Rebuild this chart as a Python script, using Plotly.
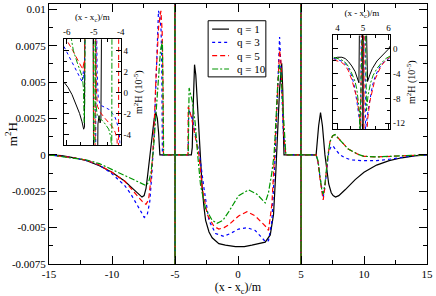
import plotly.graph_objects as go

# ---------------- data ----------------
names = ["q = 1", "q = 3", "q = 5", "q = 10"]
colors = ["#000000", "#0000ff", "#ff0000", "#009600"]
dashes = ["solid", "dot", "5px,3px", "6px,2px,2px,2px"]

# main panel: (x - x_c)/m , m^2 H
q1_main = [(-15, 0), (-14, -0.00005), (-13, -0.0002), (-12, -0.0004), (-11, -0.00075), (-10, -0.0012),
           (-9.5, -0.0015), (-9, -0.0018), (-8.5, -0.0022), (-8, -0.0026), (-7.8, -0.0028), (-7.62, -0.0029),
           (-7.45, -0.0028), (-7.3, -0.0023), (-7.17, -0.0014), (-7.0, -0.0001), (-6.8, 0.0015), (-6.65, 0.0025),
           (-6.52, 0.0029), (-6.4, 0.0025), (-6.3, 0.0015), (-6.22, 0.0003), (-6.2, 0), (-5.1, 0), (-5.01, 0),
           (-5.0, 0.05), (-5.0, -0.05), (-4.99, 0), (-3.7, 0), (-3.63, 0.0005), (-3.55, 0.0035), (-3.45, 0.0062),
           (-3.35, 0.0055), (-3.24, 0.0038), (-3.1, 0.0015), (-2.97, 0), (-2.84, -0.0023), (-2.7, -0.0036),
           (-2.57, -0.0045), (-2.3, -0.0053), (-2.05, -0.0057), (-1.52, -0.0061), (-1.0, -0.0062), (-0.2, -0.0063),
           (0.5, -0.0063), (1.1, -0.0062), (1.6, -0.0061), (2.16, -0.006), (2.56, -0.0055), (2.82, -0.0041),
           (3.0, -0.0012), (3.16, 0.0022), (3.3, 0.0045), (3.47, 0.0063), (3.55, 0.0045), (3.62, 0.001),
           (3.65, 0), (4.99, 0), (5.0, 0.05), (5.0, -0.05), (5.01, 0), (6.2, 0), (6.3, 0.001), (6.4, 0.002),
           (6.55, 0.0029), (6.7, 0.002), (6.9, 0), (7.05, -0.0012), (7.2, -0.002), (7.4, -0.0026), (7.55, -0.0028),
           (7.74, -0.0029), (8.0, -0.0028), (8.5, -0.0024), (9.3, -0.0017), (10, -0.0012), (11, -0.0007),
           (12, -0.0004), (13, -0.0002), (14, -0.00007), (15, 0)]
q3_main = [(-15, 0), (-13, -0.0002), (-12, -0.0004), (-11, -0.0007), (-10, -0.0013), (-9, -0.0021),
           (-8.5, -0.0027), (-8, -0.0034), (-7.7, -0.0039), (-7.44, -0.0043), (-7.2, -0.0041), (-7.0, -0.0032),
           (-6.85, -0.0015), (-6.65, 0.0015), (-6.5, 0.0055), (-6.39, 0.0083), (-6.31, 0.0099), (-6.2, 0.0095),
           (-6.1, 0.0085), (-6.05, 0.006), (-6.0, 0), (-5.1, 0), (-5.01, 0), (-5.0, 0.05), (-5.0, -0.05),
           (-4.99, 0), (-3.95, 0), (-3.92, 0.0031), (-3.85, 0.003), (-3.6, 0.0024), (-3.3, 0.001), (-3.05, 0),
           (-2.7, -0.0023), (-2.31, -0.0045), (-1.78, -0.0054), (-1.13, -0.0056), (-0.6, -0.0054), (0.05, -0.0051),
           (0.71, -0.005), (1.37, -0.0052), (1.8, -0.0056), (2.16, -0.00595), (2.42, -0.0059), (2.69, -0.00455),
           (2.95, 0), (3.1, 0.0035), (3.22, 0.0065), (3.3, 0.0081), (3.35, 0.0072), (3.47, 0.0038), (3.6, 0.0015),
           (3.69, 0.0009), (3.79, 0), (4.99, 0), (5.0, 0.05), (5.0, -0.05), (5.01, 0), (6.2, 0), (6.35, -0.0005),
           (6.5, -0.0015), (6.65, -0.0025), (6.76, -0.0029), (6.9, -0.0022), (7.05, -0.0008), (7.2, 0.0002),
           (7.4, 0.0006), (7.55, 0.0006), (7.8, 0.0003), (8.1, 0), (8.5, -0.0002), (9.0, -0.00035),
           (10, -0.0004), (11, -0.0004), (12, -0.0003), (13, -0.00015), (14, -0.00005), (15, 0)]
q5_main = [(-15, 0), (-13, -0.0002), (-12, -0.00038), (-11, -0.0007), (-10, -0.0012), (-9, -0.0018),
           (-8.5, -0.0023), (-8, -0.0028), (-7.6, -0.0032), (-7.31, -0.0034), (-7.1, -0.0031), (-6.9, -0.0016),
           (-6.7, 0.001), (-6.5, 0.0055), (-6.3, 0.0088), (-6.12, 0.0099), (-6.02, 0.0085), (-5.95, 0.005),
           (-5.92, 0), (-5.1, 0), (-5.01, 0), (-5.0, 0.05), (-5.0, -0.05), (-4.99, 0), (-3.97, 0),
           (-3.95, 0.0033), (-3.9, 0.0032), (-3.7, 0.0026), (-3.4, 0.0013), (-3.1, 0), (-2.84, -0.0023),
           (-2.44, -0.0041), (-1.92, -0.0049), (-1.52, -0.0051), (-1.1, -0.005), (-0.73, -0.0048),
           (0.05, -0.0042), (0.71, -0.0039), (1.37, -0.0042), (1.9, -0.0047), (2.29, -0.005), (2.42, -0.0052),
           (2.69, -0.0034), (2.9, 0), (3.05, 0.003), (3.2, 0.006), (3.3, 0.0072), (3.4, 0.0065), (3.5, 0.004),
           (3.65, 0.0012), (3.79, 0), (4.99, 0), (5.0, 0.05), (5.0, -0.05), (5.01, 0), (6.2, 0), (6.35, -0.0005),
           (6.5, -0.0016), (6.65, -0.0027), (6.76, -0.0031), (6.9, -0.0022), (7.1, -0.0003), (7.3, 0.0009),
           (7.5, 0.0013), (7.7, 0.0014), (8.0, 0.0011), (8.75, 0.0004), (9.5, 0.00005), (10, -0.0001),
           (11, -0.00014), (12, -0.00012), (13, -0.00008), (14, -0.00003), (15, 0)]
q10_main = [(-15, 0), (-13, -0.0002), (-12, -0.00035), (-11, -0.0006), (-10, -0.001), (-9, -0.0014),
            (-8, -0.0018), (-7.6, -0.002), (-7.31, -0.0021), (-7.1, -0.0019), (-6.9, -0.0012), (-6.7, 0.0005),
            (-6.4, 0.0045), (-6.15, 0.0072), (-6.0, 0.0078), (-5.95, 0.004), (-5.9, 0), (-5.1, 0), (-5.01, 0),
            (-5.0, 0.05), (-5.0, -0.05), (-4.99, 0), (-3.95, 0), (-3.92, 0.004), (-3.88, 0.0046),
            (-3.63, 0.0037), (-3.4, 0.0022), (-3.2, 0), (-2.97, -0.0021), (-2.57, -0.0037), (-2.05, -0.0045),
            (-1.66, -0.0047), (-1.2, -0.0045), (-0.73, -0.0039), (0.05, -0.0028), (0.84, -0.0024),
            (1.5, -0.0027), (2.16, -0.0033), (2.42, -0.0026), (2.69, -0.0012), (2.86, 0), (3.0, 0.0022),
            (3.15, 0.0048), (3.3, 0.0062), (3.4, 0.0058), (3.55, 0.0035), (3.7, 0.0008), (3.8, 0), (4.99, 0),
            (5.0, 0.05), (5.0, -0.05), (5.01, 0), (6.2, 0), (6.35, -0.0004), (6.5, -0.0014), (6.65, -0.0024),
            (6.76, -0.0027), (6.9, -0.002), (7.1, -0.0003), (7.3, 0.0009), (7.5, 0.0013), (7.7, 0.0014),
            (8.0, 0.0011), (8.75, 0.0004), (9.5, 0.00005), (10, -0.0001), (11, -0.00014), (12, -0.00012),
            (13, -0.00008), (14, -0.00003), (15, 0)]

# left inset, y in units of 1e-5
q1_left = [(-6.1, 1.0), (-5.95, 0.5), (-5.8, -0.2), (-5.65, -1.1), (-5.52, -2.0), (-5.43, -2.8), (-5.37, -3.5),
           (-5.34, -3.3), (-5.32, 9), (-5.02, 9), (-5.0, -9), (-4.86, -9), (-4.84, -3.0), (-4.8, -2.2),
           (-4.76, -2.9), (-4.73, -2.5), (-4.7, 9), (-4.0, 9)]
q3_left = [(-6.1, 4.4), (-5.9, 3.4), (-5.75, 2.6), (-5.6, 1.8), (-5.5, 1.3), (-5.42, 1.0), (-5.38, 2.0),
           (-5.35, 1.2), (-5.33, 4.0), (-5.31, 9), (-5.01, 9), (-5.0, -9), (-4.93, -9), (-4.9, 9), (-4.87, 2),
           (-4.83, -0.5), (-4.75, -1.2), (-4.6, -1.4), (-4.44, -1.6), (-4.3, -2.0), (-4.2, -2.4), (-4.1, -3.2),
           (-4.05, -4.0), (-4.0, -5.5)]
q5_left = [(-6.05, 5.5), (-5.95, 4.8), (-5.77, 4.0), (-5.6, 3.2), (-5.5, 2.7), (-5.4, 2.2), (-5.36, 3.0),
           (-5.34, 2.0), (-5.32, 9), (-5.01, 9), (-5.0, -9), (-4.95, -9), (-4.93, 9), (-4.9, 0.5), (-4.86, -1.3),
           (-4.75, -1.9), (-4.6, -2.4), (-4.44, -2.9), (-4.3, -3.3), (-4.2, -3.8), (-4.13, -4.5), (-4.11, -9),
           (-4.08, -9), (-4.07, 9), (-4.0, 9)]
q10_left = [(-5.85, 5.5), (-5.75, 4.0), (-5.6, 2.8), (-5.5, 2.0), (-5.42, 1.5), (-5.38, 0.5), (-5.35, -2.9),
            (-5.33, -1.0), (-5.31, 9), (-5.01, 9), (-5.0, -9), (-4.96, -9), (-4.94, 9), (-4.92, -1.0),
            (-4.86, -2.3), (-4.75, -2.5), (-4.6, -2.9), (-4.44, -3.5), (-4.36, -4.3), (-4.34, -5.5),
            (-4.33, -9), (-4.32, 9), (-4.0, 9)]

# right inset, y in units of 1e-5
q1_right = [(3.84, -1.6), (4.0, -1.4), (4.17, -1.4), (4.3, -1.6), (4.43, -2.1), (4.56, -2.8), (4.69, -3.7),
            (4.78, -4.6), (4.84, -5.5), (4.86, 3), (4.99, 3), (5.0, -14), (5.01, 3), (5.14, 3), (5.18, -5.3),
            (5.27, -4.2), (5.37, -3.2), (5.55, -2.0), (5.7, -1.4), (5.85, -0.8), (6.0, -0.1), (6.07, 0.4)]
q3_right = [(3.84, -1.6), (4.0, -1.8), (4.15, -2.0), (4.3, -2.4), (4.43, -3.2), (4.56, -4.4), (4.66, -6.0),
            (4.76, -8.5), (4.83, -10.5), (4.89, -12.4), (4.91, -14), (4.93, 3), (5.08, 3), (5.1, -14),
            (5.12, -12.4), (5.2, -10), (5.27, -8.3), (5.37, -6.0), (5.47, -4.6), (5.6, -3.4), (5.73, -2.5),
            (5.9, -1.9), (6.07, -1.5)]
q5_right = [(3.84, -1.8), (4.0, -2.0), (4.15, -2.2), (4.3, -2.7), (4.43, -3.6), (4.56, -5.0), (4.66, -6.4),
            (4.76, -7.9), (4.85, -10.5), (4.89, -11.6), (4.91, -14), (4.95, 3), (5.04, 3), (5.04, -14),
            (5.16, -14), (5.18, -11.5), (5.27, -8.5), (5.37, -6.5), (5.47, -5.0), (5.6, -3.8), (5.73, -2.7),
            (5.9, -1.9), (6.07, -1.3)]
q10_right = [(3.84, -1.4), (4.0, -1.6), (4.15, -1.8), (4.3, -2.2), (4.43, -2.9), (4.56, -4.0), (4.69, -5.3),
             (4.76, -6.6), (4.82, -8.4), (4.86, -10), (4.88, -14), (4.97, 3), (5.1, 3), (5.14, -10),
             (5.2, -7.5), (5.3, -5.5), (5.4, -4.3), (5.55, -3.2), (5.73, -2.3), (5.9, -1.6), (6.07, -1.2)]

main_series = [q1_main, q3_main, q5_main, q10_main]
left_series = [q1_left, q3_left, q5_left, q10_left]
right_series = [q1_right, q3_right, q5_right, q10_right]

main_xticks = [-15, -10, -5, 0, 5, 10, 15]
main_xtext = ["-15", "-10", "-5", "0", "5", "10", "15"]
main_yticks = [-0.0075, -0.005, -0.0025, 0, 0.0025, 0.005, 0.0075, 0.01]
main_ytext = ["-0.0075", "-0.005", "-0.0025", "0", "0.0025", "0.005", "0.0075", "0.01"]
left_xticks = [-6, -5, -4]
left_xtext = ["-6", "-5", "-4"]
left_yticks = [-4, -2, 0, 2, 4]
left_ytext = ["-4", "-2", "0", "2", "4"]
right_xticks = [4, 5, 6]
right_xtext = ["4", "5", "6"]
right_yticks = [-12, -8, -4, 0]
right_ytext = ["-12", "-8", "-4", "0"]

# ---------------- figure ----------------
SERIF = "Liberation Serif"
fig = go.Figure()

for pts_list, xa, ya, w in [(main_series, "x", "y", 1.2), (left_series, "x2", "y2", 1.0),
                            (right_series, "x3", "y3", 1.0)]:
    for i, pts in enumerate(pts_list):
        xs = [p[0] for p in pts]
        ys = [p[1] for p in pts]
        fig.add_trace(go.Scatter(x=xs, y=ys, mode="lines", name=names[i], showlegend=False,
                                 xaxis=xa, yaxis=ya, hoverinfo="skip",
                                 line=dict(color=colors[i], width=w, dash=dashes[i])))

def axis_common(ticklen, fsize):
    return dict(showline=True, linecolor="black", linewidth=1, mirror="allticks",
                ticks="inside", ticklen=ticklen, tickcolor="black", tickwidth=1,
                showgrid=False, zeroline=False,
                tickfont=dict(family=SERIF, size=fsize, color="black"))

fig.update_layout(
    width=436, height=296,
    margin=dict(l=49, r=7, t=3, b=29),
    paper_bgcolor="white", plot_bgcolor="white",
    showlegend=False,
    xaxis=dict(**axis_common(8, 11), domain=[0, 1], range=[-15, 15], anchor="y",
               tickvals=main_xticks, ticktext=main_xtext,
               minor=dict(dtick=2.5, tick0=0, ticks="inside", ticklen=4, tickcolor="black"),
               title=dict(text="(x - x<sub>c</sub>)/m", standoff=4,
                          font=dict(family=SERIF, size=12, color="black"))),
    yaxis=dict(**axis_common(8, 11), domain=[0, 1], range=[-0.0075, 0.01037], anchor="x",
               tickvals=main_yticks, ticktext=main_ytext,
               minor=dict(dtick=0.00125, tick0=0, ticks="inside", ticklen=4, tickcolor="black")),
    xaxis2=dict(**axis_common(5, 9), domain=[0.0395, 0.1895], range=[-6.1, -4.0], anchor="y2",
                side="top", tickvals=left_xticks, ticktext=left_xtext,
                minor=dict(dtick=0.5, tick0=0, ticks="inside", ticklen=3, tickcolor="black"),
                title=dict(text="(x - x<sub>c</sub>)/m", standoff=4,
                           font=dict(family=SERIF, size=9, color="black"))),
    yaxis2=dict(**axis_common(5, 9), domain=[0.458, 0.864], range=[-5.0, 5.08], anchor="x2",
                side="right", tickvals=left_yticks, ticktext=left_ytext,
                minor=dict(dtick=1, tick0=0, ticks="inside", ticklen=3, tickcolor="black"),
                title=dict(text="m<sup>2</sup>H (10<sup>-5</sup>)", standoff=4,
                           font=dict(family=SERIF, size=10, color="black"))),
    xaxis3=dict(**axis_common(5, 9), domain=[0.7526, 0.9026], range=[3.84, 6.07], anchor="y3",
                side="top", tickvals=right_xticks, ticktext=right_xtext,
                minor=dict(dtick=0.5, tick0=0, ticks="inside", ticklen=3, tickcolor="black"),
                title=dict(text="(x - x<sub>c</sub>)/m", standoff=4,
                           font=dict(family=SERIF, size=9, color="black"))),
    yaxis3=dict(**axis_common(5, 9), domain=[0.519, 0.879], range=[-12.93, 2.1], anchor="x3",
                side="right", tickvals=right_yticks, ticktext=right_ytext,
                minor=dict(dtick=2, tick0=0, ticks="inside", ticklen=3, tickcolor="black"),
                title=dict(text="m<sup>2</sup>H (10<sup>-5</sup>)", standoff=4,
                           font=dict(family=SERIF, size=10, color="black"))),
)

# main y-axis title
fig.add_annotation(text="m<sup>2</sup>H", xref="paper", yref="paper", x=-0.1, y=0.5,
                   textangle=-90, showarrow=False, xanchor="center", yanchor="middle",
                   font=dict(family=SERIF, size=13, color="black"))

# hand-drawn legend box
lx0, lx1, ly0, ly1 = 0.421, 0.5737, 0.7197, 0.9356
fig.add_shape(type="rect", xref="paper", yref="paper", x0=lx0, x1=lx1, y0=ly0, y1=ly1,
              line=dict(color="black", width=1), fillcolor="white", layer="above")
item_y = [0.9034, 0.8523, 0.8011, 0.75]
for i in range(4):
    fig.add_shape(type="line", xref="paper", yref="paper", x0=0.4316, x1=0.4763,
                  y0=item_y[i], y1=item_y[i], layer="above",
                  line=dict(color=colors[i], width=1.2, dash=dashes[i]))
    fig.add_annotation(text=names[i], xref="paper", yref="paper", x=0.4921, y=item_y[i],
                       xanchor="left", yanchor="middle", showarrow=False,
                       font=dict(family=SERIF, size=11, color="black"))

fig.write_html("out.html", config={"displayModeBar": False},
               post_script="document.body.style.margin='0px';"
                           "document.body.style.overflow='hidden';")
